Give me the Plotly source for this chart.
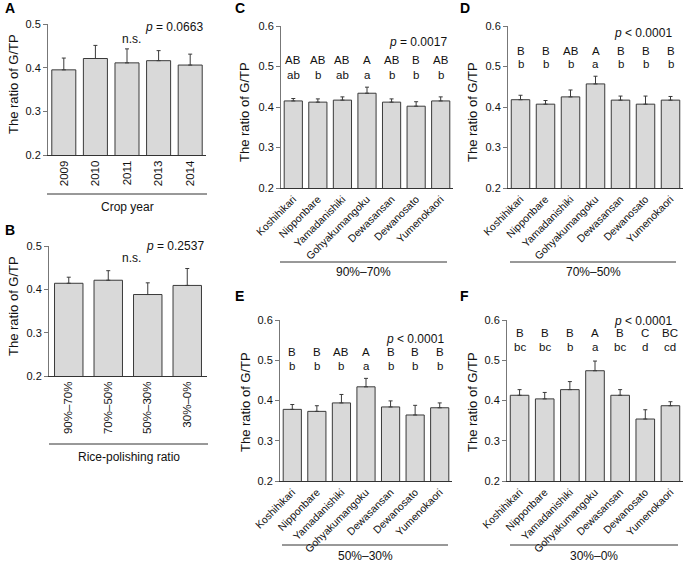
import plotly.graph_objects as go

W, H = 685, 570

# ---------------- data ----------------
years = ["2009", "2010", "2011", "2013", "2014"]
year_mean = [0.395, 0.421, 0.411, 0.416, 0.406]
year_err = [0.027, 0.030, 0.032, 0.023, 0.025]

ratios = ["90%–70%", "70%–50%", "50%–30%", "30%–0%"]
ratio_mean = [0.414, 0.421, 0.388, 0.409]
ratio_err = [0.014, 0.022, 0.027, 0.039]

cultivars = ["Koshihikari", "Nipponbare", "Yamadanishiki", "Gohyakumangoku",
             "Dewasansan", "Dewanosato", "Yumenokaori"]

c_mean = [0.415, 0.412, 0.417, 0.434, 0.412, 0.402, 0.415]
c_err = [0.006, 0.008, 0.008, 0.015, 0.008, 0.011, 0.010]
c_upper = ["AB", "AB", "AB", "A", "AB", "B", "AB"]
c_lower = ["ab", "b", "ab", "a", "b", "b", "b"]

d_mean = [0.418, 0.407, 0.425, 0.457, 0.417, 0.407, 0.417]
d_err = [0.011, 0.009, 0.017, 0.019, 0.010, 0.020, 0.009]
d_upper = ["B", "B", "AB", "A", "B", "B", "B"]
d_lower = ["b", "b", "b", "a", "b", "b", "b"]

e_mean = [0.378, 0.373, 0.394, 0.434, 0.384, 0.364, 0.382]
e_err = [0.012, 0.014, 0.021, 0.021, 0.015, 0.024, 0.012]
e_upper = ["B", "B", "AB", "A", "B", "B", "B"]
e_lower = ["b", "b", "b", "a", "b", "b", "b"]

f_mean = [0.413, 0.404, 0.427, 0.474, 0.413, 0.354, 0.387]
f_err = [0.014, 0.016, 0.020, 0.024, 0.014, 0.023, 0.010]
f_upper = ["B", "B", "B", "A", "B", "C", "BC"]
f_lower = ["bc", "bc", "b", "a", "bc", "d", "cd"]

FONT = "Liberation Sans, Arial, sans-serif"
BAR = "#d9d9d9"
EDGE = "#3a3a3a"

def px_x(v):
    return v / W

def px_y(v):
    return 1 - v / H

# panels: (name, cats, mean, err, x0, x1, y0, y1, yrange, tickangle, tickfont, barwidth)
panels = [
    ("A", years, year_mean, year_err, 48, 206, 24, 155, [0.2, 0.5], -90, 11.5, 0.76),
    ("B", ratios, ratio_mean, ratio_err, 49, 207, 246, 376, [0.2, 0.5], -90, 11.5, 0.72),
    ("C", cultivars, c_mean, c_err, 281, 453, 26, 188, [0.2, 0.6], -45, 10.5, 0.74),
    ("D", cultivars, d_mean, d_err, 508, 683, 26, 188, [0.2, 0.6], -45, 10.5, 0.74),
    ("E", cultivars, e_mean, e_err, 280, 452, 320, 481, [0.2, 0.6], -45, 10.5, 0.74),
    ("F", cultivars, f_mean, f_err, 507, 683, 320, 481, [0.2, 0.6], -45, 10.5, 0.74),
]

fig = go.Figure()
layout = dict(
    width=W, height=H, margin=dict(l=0, r=0, t=0, b=0, autoexpand=False),
    paper_bgcolor="white", plot_bgcolor="white", showlegend=False,
    font=dict(family=FONT, color="#111"),
)
annotations = []
shapes = []

for i, (name, cats, mean, err, x0, x1, y0, y1, yr, ta, tf, bw) in enumerate(panels):
    idx = i + 1
    xa = "x" if idx == 1 else f"x{idx}"
    ya = "y" if idx == 1 else f"y{idx}"
    fig.add_trace(go.Bar(
        x=cats, y=mean, xaxis=xa, yaxis=ya, width=bw,
        marker=dict(color=BAR, line=dict(color=EDGE, width=1)),
        error_y=dict(type="data", symmetric=False, array=err,
                     arrayminus=[0] * len(err), color=EDGE, thickness=1, width=2),
    ))
    yt = [round(0.2 + 0.1 * k, 1) for k in range(int(round((yr[1] - 0.2) / 0.1)) + 1)]
    layout[f"xaxis{'' if idx == 1 else idx}"] = dict(
        domain=[px_x(x0), px_x(x1)], anchor=ya, type="category", automargin=False,
        range=[-0.5, len(cats) - 0.5], showline=True, linecolor="#333", linewidth=1,
        ticks="", tickangle=ta, tickfont=dict(size=tf, family=FONT, color="#111"),
        showgrid=False, zeroline=False, fixedrange=True,
    )
    layout[f"yaxis{'' if idx == 1 else idx}"] = dict(
        domain=[px_y(y1), px_y(y0)], anchor=xa, range=yr, automargin=False,
        tickvals=yt, ticktext=[f"{v:.1f}" for v in yt],
        showline=True, linecolor="#777", linewidth=1, ticks="outside",
        ticklen=4, tickcolor="#777", tickfont=dict(size=11, family=FONT, color="#111"),
        showgrid=False, zeroline=False, fixedrange=True,
    )

# panel letters
for lab, x, y in [("A", 3, 8), ("B", 3, 230), ("C", 233, 8), ("D", 458, 8),
                  ("E", 233, 296), ("F", 458, 296)]:
    annotations.append(dict(text=f"<b>{lab}</b>", x=px_x(x), y=px_y(y), xref="paper",
                            yref="paper", xanchor="left", yanchor="middle",
                            showarrow=False, font=dict(size=14, family=FONT, color="#000")))

# y axis titles
for x, y in [(13, 84), (13, 306), (245, 112), (473, 112), (245, 402), (472, 402)]:
    annotations.append(dict(text="The ratio of G/TP", x=px_x(x), y=px_y(y), xref="paper",
                            yref="paper", textangle=-90, showarrow=False,
                            xanchor="center", yanchor="middle",
                            font=dict(size=13, family=FONT, color="#111")))

# group lines and labels
for lab, x0, x1, ly, ty in [("Crop year", 47, 207, 194, 207),
                            ("Rice-polishing ratio", 49, 208, 444, 457),
                            ("90%–70%", 280, 447, 262, 272),
                            ("70%–50%", 510, 676, 262, 272),
                            ("50%–30%", 282, 448, 545, 556),
                            ("30%–0%", 510, 678, 545, 556)]:
    shapes.append(dict(type="line", xref="paper", yref="paper", x0=px_x(x0), x1=px_x(x1),
                       y0=px_y(ly), y1=px_y(ly), line=dict(color="#333", width=1)))
    annotations.append(dict(text=lab, x=px_x((x0 + x1) / 2), y=px_y(ty), xref="paper",
                            yref="paper", showarrow=False, xanchor="center",
                            yanchor="middle", font=dict(size=12, family=FONT, color="#111")))

# p-values and n.s.
for txt, xr, yref, yv in [("<i>p</i> = 0.0663", 205, "y", 0.493),
                          ("<i>p</i> = 0.2537", 206, "y2", 0.499),
                          ("<i>p</i> = 0.0017", 449, "y3", 0.560),
                          ("<i>p</i> &lt; 0.0001", 674, "y4", 0.582),
                          ("<i>p</i> &lt; 0.0001", 446, "y5", 0.554),
                          ("<i>p</i> &lt; 0.0001", 674, "y6", 0.597)]:
    annotations.append(dict(text=txt, x=px_x(xr), y=yv, xref="paper", yref=yref,
                            xanchor="right", yanchor="middle", showarrow=False,
                            font=dict(size=12, family=FONT, color="#111")))
for yref, yv in [("y", 0.466), ("y2", 0.472)]:
    annotations.append(dict(text="n.s.", x=px_x(131), y=yv, xref="paper", yref=yref,
                            xanchor="center", yanchor="middle", showarrow=False,
                            font=dict(size=12, family=FONT, color="#111")))

# significance letters
for k, (up, lo, yu, yl) in enumerate([(c_upper, c_lower, 0.515, 0.479),
                                      (d_upper, d_lower, 0.539, 0.505),
                                      (e_upper, e_lower, 0.521, 0.485),
                                      (f_upper, f_lower, 0.567, 0.533)]):
    idx = k + 3
    for j, c in enumerate(cultivars):
        for t, yv in [(up[j], yu), (lo[j], yl)]:
            annotations.append(dict(text=t, x=c, y=yv, xref=f"x{idx}", yref=f"y{idx}",
                                    xanchor="center", yanchor="middle", showarrow=False,
                                    borderpad=0,
                                    font=dict(size=11.5, family=FONT, color="#111")))

layout["annotations"] = annotations
layout["shapes"] = shapes
fig.update_layout(**layout)
fig.write_html(
    "out.html",
    config={"displayModeBar": False},
    post_script="document.body.style.margin='0';document.body.style.overflow='hidden';",
)
